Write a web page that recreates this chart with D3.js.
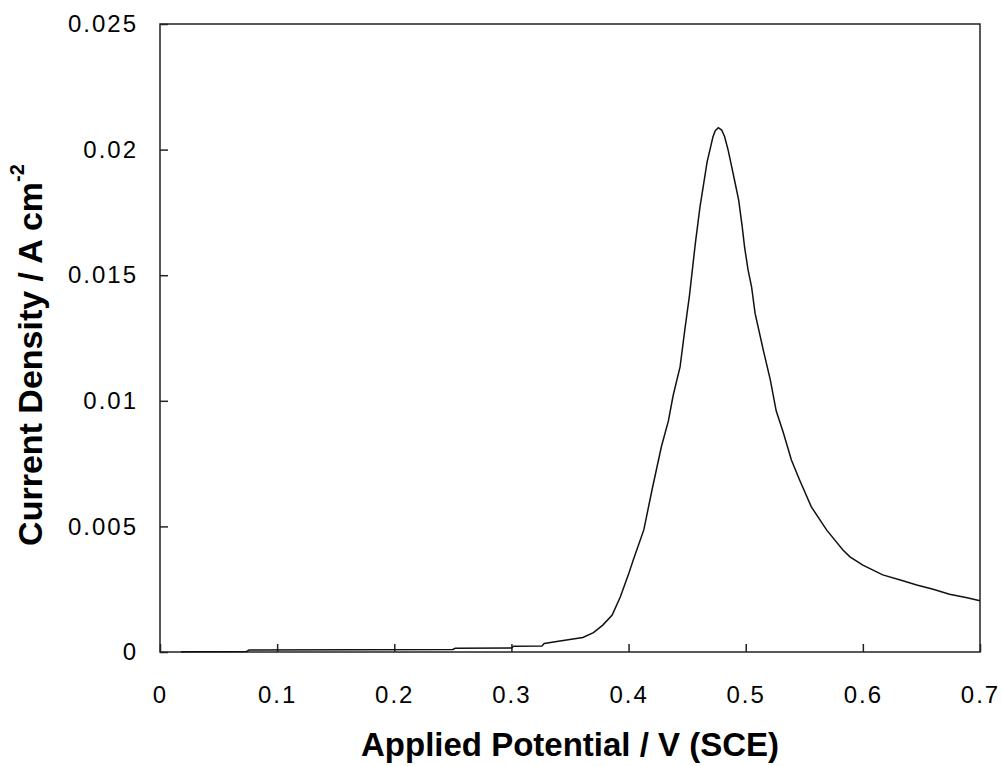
<!DOCTYPE html>
<html>
<head>
<meta charset="utf-8">
<script src="https://cdn.jsdelivr.net/npm/d3@7"></script>
<style>
  body { margin: 0; background: #fff; }
  svg { display: block; font-family: "Liberation Sans", Arial, sans-serif; }
</style>
</head>
<body>
<div id="chart"></div>
<script>
// Anodic polarisation curve
const potential = [
  0.018, 0.074, 0.076, 0.25, 0.252, 0.300, 0.302, 0.326, 0.328, 0.347,
  0.361, 0.370, 0.378, 0.386, 0.393, 0.400, 0.404, 0.413, 0.420, 0.428,
  0.434, 0.438, 0.444, 0.448, 0.452, 0.457, 0.461, 0.465, 0.467, 0.470,
  0.472, 0.474, 0.4766, 0.4795, 0.482, 0.485, 0.488, 0.491, 0.494, 0.497,
  0.499, 0.502, 0.505, 0.508, 0.515, 0.521, 0.526, 0.532, 0.539, 0.546,
  0.556, 0.569, 0.583, 0.589, 0.600, 0.617, 0.632, 0.646, 0.660, 0.674,
  0.689, 0.700
];
const current = [
  0.00001, 0.00002, 0.00008, 0.00010, 0.00015, 0.00016, 0.00023, 0.00024, 0.00034, 0.00048,
  0.00058, 0.00077, 0.00107, 0.00147, 0.00220, 0.00310, 0.00366, 0.00486, 0.00645, 0.00817,
  0.00920, 0.01020, 0.01136, 0.01282, 0.01420, 0.01627, 0.01773, 0.01890, 0.01950, 0.02010,
  0.02050, 0.02075, 0.02087, 0.02078, 0.02051, 0.01998, 0.01932, 0.01866, 0.01799, 0.01693,
  0.01613, 0.01521, 0.01454, 0.01348, 0.01202, 0.01083, 0.00960, 0.00875, 0.00764, 0.00685,
  0.00578, 0.00486, 0.00406, 0.00379, 0.00346, 0.00307, 0.00287, 0.00267, 0.00250, 0.00230,
  0.00216, 0.00204
];
const xTicks = [0, 0.1, 0.2, 0.3, 0.4, 0.5, 0.6, 0.7];
const yTicks = [0, 0.005, 0.01, 0.015, 0.02, 0.025];

const W = 1002, H = 766;
const margin = { top: 24, right: 22, bottom: 114, left: 160 };
const width = W - margin.left - margin.right;
const height = H - margin.top - margin.bottom;

const svg = d3.select('#chart').append('svg')
  .attr('width', W)
  .attr('height', H);

const g = svg.append('g')
  .attr('transform', `translate(${margin.left},${margin.top})`);

const x = d3.scaleLinear().domain([0, 0.7]).range([0, width]);
const y = d3.scaleLinear().domain([0, 0.025]).range([height, 0]);

// frame
g.append('rect')
  .attr('x', 0).attr('y', 0)
  .attr('width', width).attr('height', height)
  .attr('fill', 'none')
  .attr('stroke', '#222')
  .attr('stroke-width', 1.5);

// x axis: inward ticks, labels below
const xAxis = g.append('g')
  .attr('transform', `translate(0,${height})`)
  .call(d3.axisBottom(x).tickValues(xTicks)
    .tickSizeInner(-8).tickSizeOuter(0).tickPadding(34)
    .tickFormat(d => String(+d.toFixed(3))));
xAxis.select('.domain').remove();
xAxis.selectAll('line').attr('stroke', '#222').attr('stroke-width', 1.5);
xAxis.selectAll('text')
  .attr('font-size', 24)
  .attr('fill', '#000')
  .style('letter-spacing', '2px');

// y axis: inward ticks, labels left
const yAxis = g.append('g')
  .call(d3.axisLeft(y).tickValues(yTicks)
    .tickSizeInner(-8).tickSizeOuter(0).tickPadding(22)
    .tickFormat(d => String(+d.toFixed(3))));
yAxis.select('.domain').remove();
yAxis.selectAll('line').attr('stroke', '#222').attr('stroke-width', 1.5);
yAxis.selectAll('text')
  .attr('font-size', 24)
  .attr('fill', '#000')
  .style('letter-spacing', '2px');

// curve
const data = potential.map((v, i) => ({ v, i: current[i] }));
g.append('path')
  .datum(data)
  .attr('fill', 'none')
  .attr('stroke', '#111')
  .attr('stroke-width', 1.5)
  .attr('d', d3.line().x(d => x(d.v)).y(d => y(d.i)));

// axis titles
svg.append('text')
  .attr('x', margin.left + width / 2)
  .attr('y', 756)
  .attr('text-anchor', 'middle')
  .attr('font-size', 33)
  .attr('font-weight', 'bold')
  .text('Applied Potential / V (SCE)');

const yTitle = svg.append('text')
  .attr('transform', 'translate(42,355) rotate(-90)')
  .attr('text-anchor', 'middle')
  .attr('font-size', 34)
  .attr('font-weight', 'bold');
yTitle.append('tspan').text('Current Density / A cm');
yTitle.append('tspan')
  .attr('font-size', 20)
  .attr('dy', -18)
  .text('-2');
</script>
</body>
</html>
